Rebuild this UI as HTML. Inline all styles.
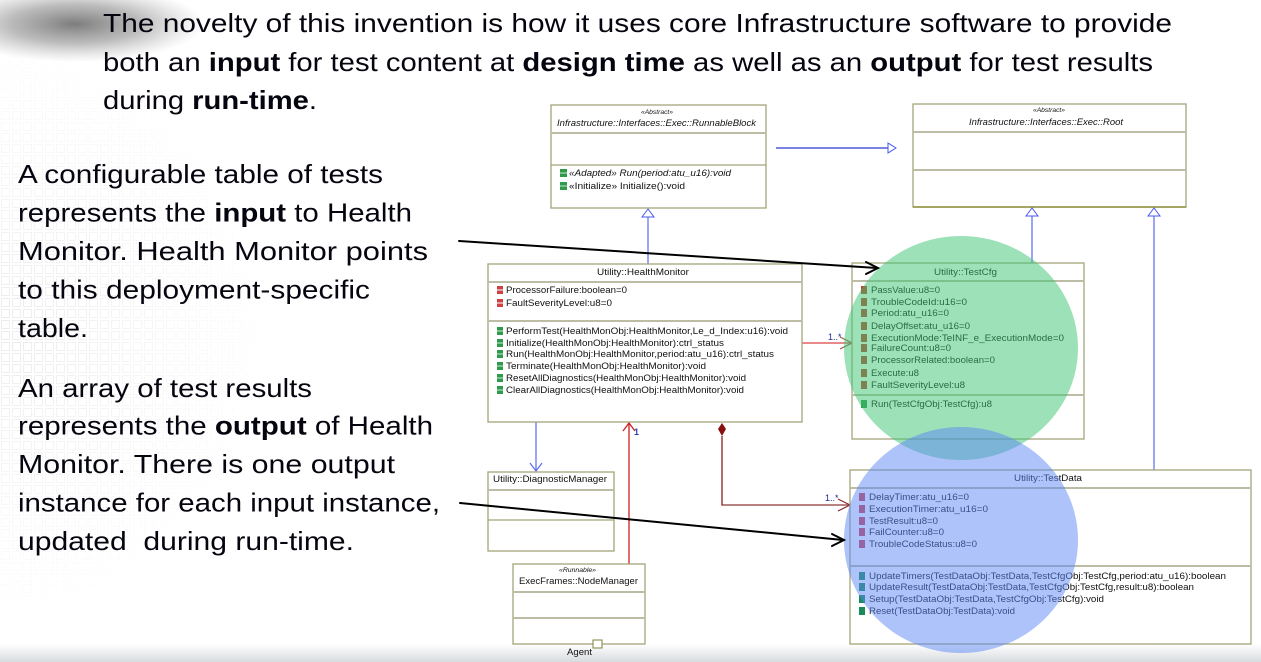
<!DOCTYPE html>
<html><head><meta charset="utf-8">
<style>
html,body{margin:0;padding:0;background:#fff;}
svg{display:block;}
.big{font-family:"Liberation Sans",Arial,sans-serif;font-size:26px;fill:#05050f;}
.d{font-family:"Liberation Sans",Arial,sans-serif;font-size:9px;fill:#111;}
.st{font-family:"Liberation Sans",Arial,sans-serif;font-size:6px;fill:#111;font-style:italic;}
.box{fill:#fff;stroke:#a4a47a;stroke-width:1.3;}
.div1{stroke:#bdbda6;stroke-width:2;}
.div2{stroke:#a4a47a;stroke-width:1.2;}
</style></head>
<body>
<svg width="1261" height="662" viewBox="0 0 1261 662" xmlns="http://www.w3.org/2000/svg">
<defs>
  <pattern id="grid" width="11" height="11" patternUnits="userSpaceOnUse">
    <rect x="1.5" y="1.5" width="8" height="8" fill="none" stroke="#cfcfcf" stroke-width="1"/>
  </pattern>
  <radialGradient id="fade" cx="0" cy="330" r="1" gradientUnits="userSpaceOnUse" gradientTransform="translate(0 330) scale(280 300) translate(0 -330)">
    <stop offset="0" stop-color="#fff" stop-opacity="1"/>
    <stop offset="0.5" stop-color="#fff" stop-opacity="0.45"/>
    <stop offset="1" stop-color="#fff" stop-opacity="0"/>
  </radialGradient>
  <mask id="gm"><rect x="0" y="0" width="400" height="662" fill="url(#fade)"/></mask>
  <radialGradient id="blob" cx="0.5" cy="0.5" r="0.5">
    <stop offset="0" stop-color="#5c5c5c" stop-opacity="0.8"/>
    <stop offset="0.5" stop-color="#777" stop-opacity="0.5"/>
    <stop offset="1" stop-color="#999" stop-opacity="0"/>
  </radialGradient>
  <linearGradient id="bot" x1="0" y1="0" x2="0" y2="1">
    <stop offset="0" stop-color="#fff"/>
    <stop offset="1" stop-color="#d8dbde"/>
  </linearGradient>
</defs>

<!-- background texture -->
<rect x="0" y="40" width="300" height="580" fill="url(#grid)" mask="url(#gm)" opacity="0.4"/>
<ellipse cx="75" cy="24" rx="130" ry="38" fill="url(#blob)"/>
<rect x="0" y="644" width="1261" height="18" fill="url(#bot)"/>

<!-- top paragraph -->
<text class="big" x="103" y="32" textLength="1069" lengthAdjust="spacingAndGlyphs">The novelty of this invention is how it uses core Infrastructure software to provide</text>
<text class="big" x="103" y="71" textLength="1050" lengthAdjust="spacingAndGlyphs">both an <tspan font-weight="bold">input</tspan> for test content at <tspan font-weight="bold">design time</tspan> as well as an <tspan font-weight="bold">output</tspan> for test results</text>
<text class="big" x="103" y="109" textLength="214" lengthAdjust="spacingAndGlyphs">during <tspan font-weight="bold">run-time</tspan>.</text>

<!-- left paragraphs -->
<text class="big" x="18" y="183" textLength="365" lengthAdjust="spacingAndGlyphs">A configurable table of tests</text>
<text class="big" x="18" y="221.5" textLength="394" lengthAdjust="spacingAndGlyphs">represents the <tspan font-weight="bold">input</tspan> to Health</text>
<text class="big" x="18" y="260" textLength="410" lengthAdjust="spacingAndGlyphs">Monitor. Health Monitor points</text>
<text class="big" x="18" y="298.5" textLength="352" lengthAdjust="spacingAndGlyphs">to this deployment-specific</text>
<text class="big" x="18" y="337" textLength="70" lengthAdjust="spacingAndGlyphs">table.</text>

<text class="big" x="18" y="397" textLength="294" lengthAdjust="spacingAndGlyphs">An array of test results</text>
<text class="big" x="18" y="434.5" textLength="415" lengthAdjust="spacingAndGlyphs">represents the <tspan font-weight="bold">output</tspan> of Health</text>
<text class="big" x="18" y="473" textLength="377" lengthAdjust="spacingAndGlyphs">Monitor. There is one output</text>
<text class="big" x="18" y="511.5" textLength="422" lengthAdjust="spacingAndGlyphs">instance for each input instance,</text>
<text class="big" x="18" y="550" textLength="336" lengthAdjust="spacingAndGlyphs">updated&#160; during run-time.</text>

<!-- connectors (under boxes) -->
<g fill="none">
  <line x1="776" y1="148" x2="888" y2="148" stroke="#2a3ad0" stroke-width="1.2"/>
  <polygon points="888,143 896,148 888,153" fill="#fff" stroke="#4a5af0" stroke-width="1"/>
  <line x1="648" y1="217" x2="648" y2="264" stroke="#5a6af0" stroke-width="1.2"/>
  <polygon points="648,209 642,217 654,217" fill="#fff" stroke="#4a5af0" stroke-width="1"/>
  <line x1="1032" y1="216" x2="1032" y2="263" stroke="#5a6af0" stroke-width="1.2"/>
  <polygon points="1032,208 1026,216 1038,216" fill="#fff" stroke="#4a5af0" stroke-width="1"/>
  <line x1="1154" y1="216" x2="1154" y2="470" stroke="#5a6af0" stroke-width="1.2"/>
  <polygon points="1154,208 1148,216 1160,216" fill="#fff" stroke="#4a5af0" stroke-width="1"/>
  <line x1="536" y1="422" x2="536" y2="471" stroke="#5a6af0" stroke-width="1.2"/>
  <polyline points="530,463 536,471 542,463" stroke="#5a6af0" stroke-width="1.2"/>
  <line x1="629" y1="564" x2="629" y2="423" stroke="#d02020" stroke-width="1.3"/>
  <polyline points="623,431 629,423 635,431" stroke="#d02020" stroke-width="1.3"/>
  <line x1="802" y1="343" x2="851" y2="343" stroke="#e06464" stroke-width="1.5"/>
  <polyline points="840,337 852,343 840,349" stroke="#a05a40" stroke-width="1.2"/>
  <polyline points="722,436 722,505 849,505" stroke="#8a2020" stroke-width="1.3"/>
  <line x1="723" y1="505" x2="849" y2="505" stroke="#a05858" stroke-width="1.3"/>
  <polyline points="838,499 850,505 838,511" stroke="#8a2a2a" stroke-width="1.2"/>
</g>
<polygon points="722,423 726,429 722,436 718,429" fill="#8a1010"/>
<text class="d" x="634" y="435" style="fill:#2a44c0;font-weight:bold">1</text>
<text class="d" x="828" y="340" style="fill:#1a2a90">1..*</text>
<text class="d" x="825" y="501" style="fill:#1a2a90">1..*</text>

<!-- RunnableBlock -->
<rect class="box" x="551" y="105" width="215" height="103"/>
<line class="div1" x1="551" y1="133" x2="766" y2="133"/>
<line class="div2" x1="551" y1="165" x2="766" y2="165"/>
<text class="st" x="641" y="114" textLength="32" lengthAdjust="spacingAndGlyphs">«Abstract»</text>
<text class="d" x="557" y="126" font-style="italic" textLength="199" lengthAdjust="spacingAndGlyphs">Infrastructure::Interfaces::Exec::RunnableBlock</text>
<rect x="560" y="169" width="7" height="8" fill="#2e9a4a"/><line x1="560" y1="173" x2="567" y2="173" stroke="#bfe8c8"/>
<rect x="560" y="182" width="7" height="8" fill="#2e9a4a"/><line x1="560" y1="186" x2="567" y2="186" stroke="#bfe8c8"/>
<text class="d" x="569" y="176" font-style="italic" textLength="162" lengthAdjust="spacingAndGlyphs">«Adapted» Run(period:atu_u16):void</text>
<text class="d" x="569" y="189" textLength="116" lengthAdjust="spacingAndGlyphs">«Initialize» Initialize():void</text>

<!-- Root -->
<rect class="box" x="913" y="104" width="273" height="103"/>
<line class="div1" x1="913" y1="132" x2="1186" y2="132"/>
<line class="div1" x1="913" y1="170" x2="1186" y2="170"/>
<line x1="913" y1="207" x2="1186" y2="207" stroke="#808020" stroke-width="1.3"/>
<text class="st" x="1033" y="112" textLength="32" lengthAdjust="spacingAndGlyphs">«Abstract»</text>
<text class="d" x="969" y="125" font-style="italic" textLength="154" lengthAdjust="spacingAndGlyphs">Infrastructure::Interfaces::Exec::Root</text>

<!-- HealthMonitor -->
<rect class="box" x="488" y="264" width="314" height="158"/>
<line class="div1" x1="488" y1="282" x2="802" y2="282"/>
<line class="div1" x1="488" y1="321" x2="802" y2="321"/>
<text class="d" x="597" y="275" textLength="92" lengthAdjust="spacingAndGlyphs">Utility::HealthMonitor</text>
<g fill="#d04040">
  <rect x="497" y="286" width="6" height="8"/><rect x="497" y="299" width="6" height="8"/>
</g>
<g stroke="#fff" stroke-width="1"><line x1="497" y1="290" x2="503" y2="290"/><line x1="497" y1="303" x2="503" y2="303"/></g>
<g fill="#2e9a4a">
  <rect x="497" y="327" width="6" height="8"/><rect x="497" y="339" width="6" height="8"/>
  <rect x="497" y="350" width="6" height="8"/><rect x="497" y="362" width="6" height="8"/>
  <rect x="497" y="374" width="6" height="8"/><rect x="497" y="386" width="6" height="8"/>
</g>
<g stroke="#c6ecd0" stroke-width="1">
  <line x1="497" y1="331" x2="503" y2="331"/><line x1="497" y1="343" x2="503" y2="343"/>
  <line x1="497" y1="354" x2="503" y2="354"/><line x1="497" y1="366" x2="503" y2="366"/>
  <line x1="497" y1="378" x2="503" y2="378"/><line x1="497" y1="390" x2="503" y2="390"/>
</g>
<text class="d" x="506" y="293" textLength="121" lengthAdjust="spacingAndGlyphs">ProcessorFailure:boolean=0</text>
<text class="d" x="506" y="306" textLength="106" lengthAdjust="spacingAndGlyphs">FaultSeverityLevel:u8=0</text>
<text class="d" x="506" y="334" textLength="282" lengthAdjust="spacingAndGlyphs">PerformTest(HealthMonObj:HealthMonitor,Le_d_Index:u16):void</text>
<text class="d" x="506" y="346" textLength="218" lengthAdjust="spacingAndGlyphs">Initialize(HealthMonObj:HealthMonitor):ctrl_status</text>
<text class="d" x="506" y="357" textLength="268" lengthAdjust="spacingAndGlyphs">Run(HealthMonObj:HealthMonitor,period:atu_u16):ctrl_status</text>
<text class="d" x="506" y="369" textLength="200" lengthAdjust="spacingAndGlyphs">Terminate(HealthMonObj:HealthMonitor):void</text>
<text class="d" x="506" y="381" textLength="240" lengthAdjust="spacingAndGlyphs">ResetAllDiagnostics(HealthMonObj:HealthMonitor):void</text>
<text class="d" x="506" y="393" textLength="238" lengthAdjust="spacingAndGlyphs">ClearAllDiagnostics(HealthMonObj:HealthMonitor):void</text>

<!-- DiagnosticManager -->
<rect class="box" x="488" y="472" width="126" height="79"/>
<line class="div1" x1="488" y1="490" x2="614" y2="490"/>
<line class="div2" x1="488" y1="520" x2="614" y2="520"/>
<text class="d" x="493" y="482" textLength="114" lengthAdjust="spacingAndGlyphs">Utility::DiagnosticManager</text>

<!-- NodeManager -->
<rect class="box" x="513" y="564" width="132" height="80"/>
<line class="div1" x1="513" y1="592" x2="645" y2="592"/>
<line class="div1" x1="513" y1="618" x2="645" y2="618"/>
<text class="st" x="559" y="572" textLength="37" lengthAdjust="spacingAndGlyphs" font-style="normal">«Runnable»</text>
<text class="d" x="519" y="584" textLength="119" lengthAdjust="spacingAndGlyphs">ExecFrames::NodeManager</text>
<rect x="593" y="640" width="9" height="8" fill="#fff" stroke="#808040" stroke-width="1"/>
<text class="d" x="567" y="655" textLength="25" lengthAdjust="spacingAndGlyphs">Agent</text>

<!-- TestCfg -->
<rect class="box" x="852" y="263" width="232" height="176"/>
<line class="div1" x1="852" y1="281" x2="1084" y2="281"/>
<line class="div1" x1="852" y1="395" x2="1084" y2="395"/>
<text class="d" x="934" y="275" textLength="63" lengthAdjust="spacingAndGlyphs">Utility::TestCfg</text>
<g fill="#c04030">
  <rect x="861" y="286" width="6" height="8"/><rect x="861" y="298" width="6" height="8"/>
  <rect x="861" y="309" width="6" height="8"/><rect x="861" y="322" width="6" height="8"/>
  <rect x="861" y="334" width="6" height="8"/><rect x="861" y="344" width="6" height="8"/>
  <rect x="861" y="356" width="6" height="8"/><rect x="861" y="369" width="6" height="8"/>
  <rect x="861" y="381" width="6" height="8"/>
</g>
<rect x="861" y="400" width="6" height="8" fill="#2e9a4a"/>
<text class="d" x="871" y="293" textLength="69" lengthAdjust="spacingAndGlyphs">PassValue:u8=0</text>
<text class="d" x="871" y="305" textLength="96" lengthAdjust="spacingAndGlyphs">TroubleCodeId:u16=0</text>
<text class="d" x="871" y="316" textLength="78" lengthAdjust="spacingAndGlyphs">Period:atu_u16=0</text>
<text class="d" x="871" y="329" textLength="99" lengthAdjust="spacingAndGlyphs">DelayOffset:atu_u16=0</text>
<text class="d" x="871" y="341" textLength="193" lengthAdjust="spacingAndGlyphs">ExecutionMode:TeINF_e_ExecutionMode=0</text>
<text class="d" x="871" y="351" textLength="80" lengthAdjust="spacingAndGlyphs">FailureCount:u8=0</text>
<text class="d" x="871" y="363" textLength="124" lengthAdjust="spacingAndGlyphs">ProcessorRelated:boolean=0</text>
<text class="d" x="871" y="376" textLength="48" lengthAdjust="spacingAndGlyphs">Execute:u8</text>
<text class="d" x="871" y="388" textLength="94" lengthAdjust="spacingAndGlyphs">FaultSeverityLevel:u8</text>
<text class="d" x="871" y="407" textLength="121" lengthAdjust="spacingAndGlyphs">Run(TestCfgObj:TestCfg):u8</text>

<!-- TestData -->
<rect class="box" x="850" y="470" width="401" height="174"/>
<line class="div1" x1="850" y1="488" x2="1251" y2="488"/>
<line class="div1" x1="850" y1="566" x2="1251" y2="566"/>
<text class="d" x="1014" y="481" textLength="68" lengthAdjust="spacingAndGlyphs">Utility::TestData</text>
<g fill="#d04050">
  <rect x="859" y="493" width="6" height="8"/><rect x="859" y="505" width="6" height="8"/>
  <rect x="859" y="517" width="6" height="8"/><rect x="859" y="528" width="6" height="8"/>
  <rect x="859" y="540" width="6" height="8"/>
</g>
<g fill="#1a8a5a">
  <rect x="859" y="572" width="6" height="8"/><rect x="859" y="583" width="6" height="8"/>
  <rect x="859" y="595" width="6" height="8"/><rect x="859" y="607" width="6" height="8"/>
</g>
<text class="d" x="869" y="500" textLength="100" lengthAdjust="spacingAndGlyphs">DelayTimer:atu_u16=0</text>
<text class="d" x="869" y="512" textLength="119" lengthAdjust="spacingAndGlyphs">ExecutionTimer:atu_u16=0</text>
<text class="d" x="869" y="524" textLength="69" lengthAdjust="spacingAndGlyphs">TestResult:u8=0</text>
<text class="d" x="869" y="535" textLength="75" lengthAdjust="spacingAndGlyphs">FailCounter:u8=0</text>
<text class="d" x="869" y="547" textLength="108" lengthAdjust="spacingAndGlyphs">TroubleCodeStatus:u8=0</text>
<text class="d" x="869" y="579" textLength="357" lengthAdjust="spacingAndGlyphs">UpdateTimers(TestDataObj:TestData,TestCfgObj:TestCfg,period:atu_u16):boolean</text>
<text class="d" x="869" y="590" textLength="325" lengthAdjust="spacingAndGlyphs">UpdateResult(TestDataObj:TestData,TestCfgObj:TestCfg,result:u8):boolean</text>
<text class="d" x="869" y="602" textLength="235" lengthAdjust="spacingAndGlyphs">Setup(TestDataObj:TestData,TestCfgObj:TestCfg):void</text>
<text class="d" x="869" y="614" textLength="146" lengthAdjust="spacingAndGlyphs">Reset(TestDataObj:TestData):void</text>

<!-- highlight circles -->
<ellipse cx="961" cy="348" rx="117" ry="112" fill="rgb(60,195,115)" fill-opacity="0.5"/>
<ellipse cx="961" cy="540" rx="117" ry="113" fill="rgb(91,135,245)" fill-opacity="0.5"/>

<!-- black annotation arrows -->
<g stroke="#000" stroke-width="2" fill="none" stroke-linecap="round">
  <line x1="459" y1="241" x2="877" y2="268"/>
  <polyline points="866,262 878,268 866,274"/>
  <line x1="460" y1="503" x2="843" y2="540"/>
  <polyline points="832,534 844,540 832,546"/>
</g>
</svg>
</body></html>
